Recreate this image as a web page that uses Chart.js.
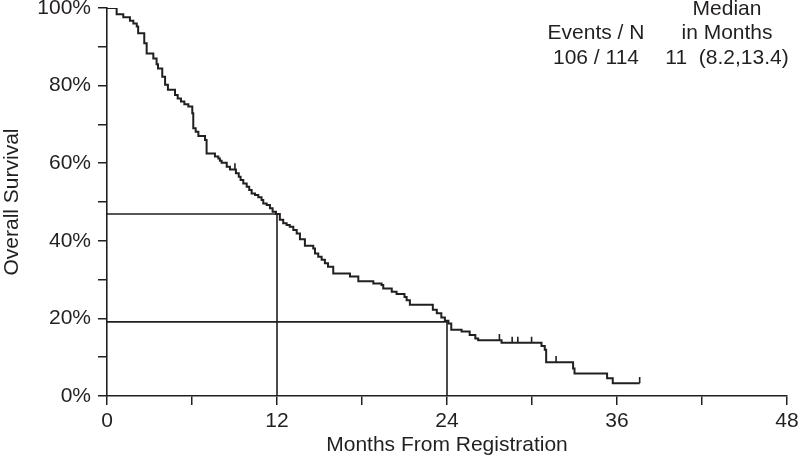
<!DOCTYPE html>
<html>
<head>
<meta charset="utf-8">
<script src="https://cdn.jsdelivr.net/npm/chart.js@4/dist/chart.umd.min.js"></script>
<style>
  html, body { margin: 0; padding: 0; background: #fff; }
  #wrap { width: 800px; height: 458px; }
</style>
</head>
<body>
<div id="wrap"><canvas id="kmChart" width="800" height="458"></canvas></div>
<script>
// Kaplan-Meier: tiempos de evento (meses) y supervivencia (%) tras cada caida
var eventTimes = [0, 0.68, 1.15, 1.62, 1.86, 2.1, 2.2, 2.63, 2.8, 3.27, 3.5, 3.6, 3.9, 4.1, 4.3,
  4.8, 4.99, 5.22, 5.46, 5.74, 6.02, 6.09, 6.26, 6.45, 6.92, 7.03, 7.62, 7.86, 7.97, 8.09,
  8.45, 8.68, 9.1, 9.3, 9.43, 9.62, 9.86, 10.04, 10.21, 10.45, 10.68, 10.91, 11.03, 11.27,
  11.5, 11.69, 11.93, 12.2, 12.44, 12.68, 12.9, 13.15, 13.39, 13.62, 13.97, 14.56, 14.68,
  14.91, 15.15, 15.38, 15.6, 15.97, 17.15, 17.74, 18.8, 19.38, 19.5, 20.1, 20.44, 21.0,
  21.15, 21.38, 23.0, 23.28, 23.6, 23.85, 24.1, 24.3, 25.03, 25.6, 26.0, 26.2, 27.85,
  30.67, 30.9, 31.0, 32.9, 33.0, 35.3, 35.7, 37.6];
var survival = [100, 98.4, 97.6, 96.7, 96.0, 95.2, 93.5, 90.9, 88.3, 87.0, 85.5, 84.4, 82.3, 80.2, 78.9,
  77.6, 76.7, 75.9, 75.2, 74.6, 72.9, 69.0, 68.1, 67.0, 66.0, 62.5, 61.7, 61.2, 60.6, 60.1,
  59.1, 58.4, 57.4, 56.5, 55.7, 54.8, 53.9, 53.1, 52.2, 51.8, 51.2, 50.5, 49.6, 49.2,
  48.4, 47.5, 46.9, 45.4, 44.5, 44.1, 43.6, 42.8, 41.9, 40.4, 38.7, 38.0, 36.7,
  35.9, 35.1, 34.2, 33.3, 31.6, 30.8, 29.6, 29.0, 28.6, 27.7, 26.9, 26.3, 25.5,
  24.7, 23.5, 22.2, 21.3, 20.2, 19.4, 18.7, 17.1, 16.6, 15.7, 14.8, 14.4, 13.7,
  12.9, 11.9, 8.7, 7.1, 5.8, 4.6, 3.3, 3.3];

// censuras
var censorTimes = [9.03, 27.7, 28.6, 29.0, 29.97, 31.7, 37.6];
var censorSurv = [58.4, 14.4, 13.7, 13.7, 13.7, 8.7, 3.3];
var censorHeight = 1.6;

// lineas de referencia (12 y 24 meses)
var refMonths = [12, 24];
var refSurv = [46.9, 19.1];

var xTicks = [0, 12, 24, 36, 48];
var yTicks = [0, 20, 40, 60, 80, 100];

var curve = eventTimes.map(function(t, i) { return { x: t, y: survival[i] }; });

var censorPts = [];
censorTimes.forEach(function(t, i) {
  censorPts.push({ x: t, y: censorSurv[i] });
  censorPts.push({ x: t, y: censorSurv[i] + censorHeight });
  censorPts.push({ x: t, y: null });
});

var refPts = [];
refMonths.forEach(function(m, i) {
  refPts.push({ x: 0, y: refSurv[i] });
  refPts.push({ x: m, y: refSurv[i] });
  refPts.push({ x: m, y: 0 });
  refPts.push({ x: m, y: null });
});

var FONT = "'Liberation Sans', Arial, Helvetica, sans-serif";
var INK = '#231f20';

var textPlugin = {
  id: 'textoMedianas',
  afterDraw: function(chart) {
    var ctx = chart.ctx;
    ctx.save();
    ctx.fillStyle = INK;
    ctx.font = '21px ' + FONT;
    ctx.textAlign = 'center';
    ctx.textBaseline = 'middle';
    ctx.fillText('Events / N', 596, 33);
    ctx.fillText('106 / 114', 596, 58);
    ctx.fillText('Median', 727, 9);
    ctx.fillText('in Months', 727, 33);
    ctx.fillText('11  (8.2,13.4)', 727, 58);
    ctx.restore();
  }
};

var ctx = document.getElementById('kmChart').getContext('2d');
var myChart = new Chart(ctx, {
  type: 'line',
  data: {
    datasets: [{
      data: curve,
      stepped: 'before',
      borderColor: INK,
      borderWidth: 2,
      pointRadius: 0,
      fill: false
    }, {
      data: censorPts,
      borderColor: INK,
      borderWidth: 1.6,
      pointRadius: 0,
      spanGaps: false
    }, {
      data: refPts,
      borderColor: INK,
      borderWidth: 1.6,
      pointRadius: 0,
      spanGaps: false
    }]
  },
  plugins: [textPlugin],
  options: {
    responsive: false,
    animation: false,
    layout: { padding: { top: 8, right: 13, left: 0, bottom: 0 } },
    plugins: { legend: { display: false }, tooltip: { enabled: false } },
    scales: {
      x: {
        type: 'linear',
        min: 0, max: 48,
        afterFit: function(s) { s.height = 62; s.paddingLeft = 0; s.paddingRight = 0; },
        afterBuildTicks: function(s) {
          s.ticks = [0, 6, 12, 18, 24, 30, 36, 42, 48].map(function(v) { return { value: v }; });
        },
        grid: { drawOnChartArea: false, drawTicks: true, tickLength: 9, color: INK, lineWidth: 1.5 },
        border: { color: INK, width: 1.6 },
        ticks: {
          padding: 4,
          maxRotation: 0,
          autoSkip: false,
          color: INK,
          font: { family: FONT, size: 21 },
          callback: function(v) { return xTicks.indexOf(v) >= 0 ? String(v) : ''; }
        },
        title: {
          display: true,
          text: 'Months From Registration',
          color: INK,
          font: { family: FONT, size: 21 },
          padding: { top: 0, bottom: 0 }
        }
      },
      y: {
        min: 0, max: 100,
        afterFit: function(s) { s.width = 107; s.paddingTop = 0; s.paddingBottom = 0; },
        afterBuildTicks: function(s) {
          s.ticks = [0, 10, 20, 30, 40, 50, 60, 70, 80, 90, 100].map(function(v) { return { value: v }; });
        },
        grid: { drawOnChartArea: false, drawTicks: true, tickLength: 9, color: INK, lineWidth: 1.5 },
        border: { color: INK, width: 1.6 },
        ticks: {
          padding: 7,
          autoSkip: false,
          color: INK,
          font: { family: FONT, size: 21 },
          callback: function(v) { return yTicks.indexOf(v) >= 0 ? v + '%' : ''; }
        },
        title: {
          display: true,
          text: 'Overall Survival',
          color: INK,
          font: { family: FONT, size: 21 },
          padding: { top: 0, bottom: 1 }
        }
      }
    }
  }
});
</script>
</body>
</html>
